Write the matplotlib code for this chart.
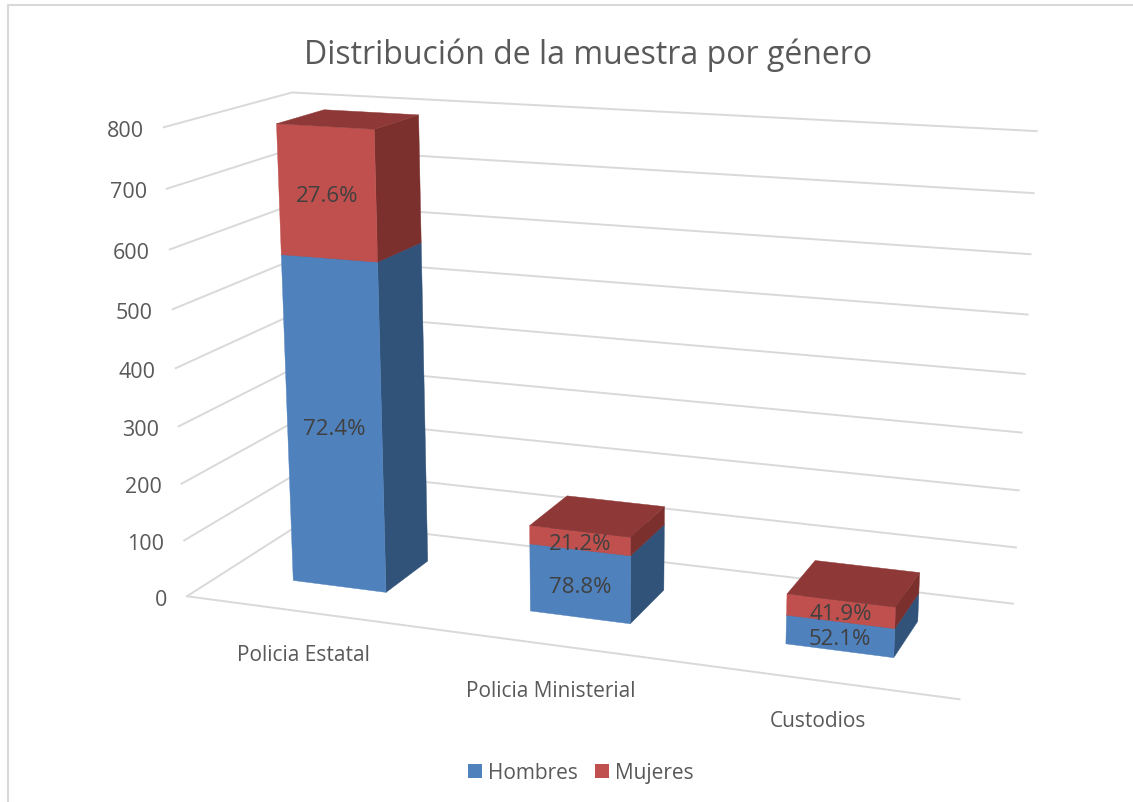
# -*- coding: utf-8 -*-
import matplotlib
matplotlib.use("Agg")
import matplotlib.pyplot as plt
from matplotlib.patches import Patch, Polygon
import numpy as np

categorias = ["Policia Estatal", "Policia Ministerial", "Custodios"]
hombres = [575, 118, 49]
mujeres = [219, 32, 36]
etiquetas_h = ["72.4%", "78.8%", "52.1%"]
etiquetas_m = ["27.6%", "21.2%", "41.9%"]
ticks = [0, 100, 200, 300, 400, 500, 600, 700, 800]

# perspective: (category, depth, value) -> pixels, fitted on the wall corners
esquinas = [
    (0, 0, 0, 187, 597), (0, 0, 800, 164, 129), (3, 0, 0, 960, 700),
    (0, 1, 0, 307, 521), (0, 1, 800, 292, 93), (3, 1, 0, 1013, 605),
    (3, 1, 800, 1037, 132), (3, 1, 400, 1024, 375), (0, 0, 400, 175, 369),
]
A = []
b = []
for x, y, z, u, v in esquinas:
    A.append([x, y, z, 1, 0, 0, 0, 0, -u * x, -u * y, -u * z])
    A.append([0, 0, 0, 0, x, y, z, 1, -v * x, -v * y, -v * z])
    b += [u, v]
sol = np.linalg.lstsq(np.array(A, float), np.array(b, float), rcond=None)[0]
P = np.append(sol, 1).reshape(3, 4)


def proj(x, y, z):
    u, v, w = P @ np.array([x, y, z, 1.0])
    return u / w, v / w


plt.rcParams["font.family"] = ["Open Sans", "DejaVu Sans"]
fig = plt.figure(figsize=(11.33, 8.03), dpi=100)
ax = fig.add_axes([0, 0, 1, 1])
ax.set_xlim(0, 1133)
ax.set_ylim(803, 0)
ax.axis("off")

GRIS = "#D9D9D9"
TEXTO = "#595959"

# chart frame, only top and left are in the picture
ax.plot([8, 8, 1133], [803, 5.5, 5.5], color=GRIS, lw=1.5)

# gridlines on the side wall and the back wall
for t in ticks:
    pts = [proj(0, 0, t), proj(0, 1, t), proj(3, 1, t)]
    ax.plot(*zip(*pts), color=GRIS, lw=1.4, solid_joinstyle="miter", zorder=1)
    u, v = pts[0]
    ax.text(u - 20, v + 3, str(t), ha="right", va="center", fontsize=15.5, color=TEXTO)
ax.plot(*zip(proj(0, 0, 0), proj(3, 0, 0)), color=GRIS, lw=1.4, zorder=1)

ancho = 0.40
y0, y1 = 0.30, 0.69
cat_dy = [43, 46, 40]


def caja(k, z0, z1, frente, lado, techo):
    x0, x1 = k + 0.5 - ancho / 2, k + 0.5 + ancho / 2
    ax.add_patch(Polygon([proj(x1, y0, z0), proj(x1, y1, z0), proj(x1, y1, z1), proj(x1, y0, z1)],
                         fc=lado, ec=lado, lw=0.3, zorder=2))
    ax.add_patch(Polygon([proj(x0, y0, z0), proj(x1, y0, z0), proj(x1, y0, z1), proj(x0, y0, z1)],
                         fc=frente, ec=frente, lw=0.3, zorder=2))
    ax.add_patch(Polygon([proj(x0, y0, z1), proj(x1, y0, z1), proj(x1, y1, z1), proj(x0, y1, z1)],
                         fc=techo, ec=techo, lw=0.3, zorder=2))
    u0, v0 = proj(x0, y0, (z0 + z1) / 2)
    u1, v1 = proj(x1, y0, (z0 + z1) / 2)
    return (u0 + u1) / 2, (v0 + v1) / 2


for k in range(3):
    h = hombres[k]
    m = mujeres[k]
    u, v = caja(k, 0, h, "#4F81BD", "#31537A", "#3E6696")
    ax.text(u, v + 2.5, etiquetas_h[k], ha="center", va="center", fontsize=16, color="#404040", zorder=5)
    u, v = caja(k, h, h + m, "#C0504D", "#7C302E", "#8E3937")
    ax.text(u, v + 2.5, etiquetas_m[k], ha="center", va="center", fontsize=16, color="#404040", zorder=5)
    u, v = proj(k + 0.5, 0, 0)
    ax.text(u, v + cat_dy[k], categorias[k], ha="center", va="center", fontsize=15, color=TEXTO)

ax.text(588, 55, "Distribución de la muestra por género", ha="center", va="center",
        fontsize=23, color=TEXTO)

ax.legend(handles=[Patch(fc="#4F81BD", label="Hombres"), Patch(fc="#C0504D", label="Mujeres")],
          loc="center", bbox_to_anchor=(581 / 1133, 1 - 773.5 / 803), ncol=2, frameon=False,
          fontsize=15, handlelength=0.65, handleheight=0.65, handletextpad=0.3, columnspacing=0.85,
          labelcolor=TEXTO)

fig.savefig("out.png", dpi=100)
